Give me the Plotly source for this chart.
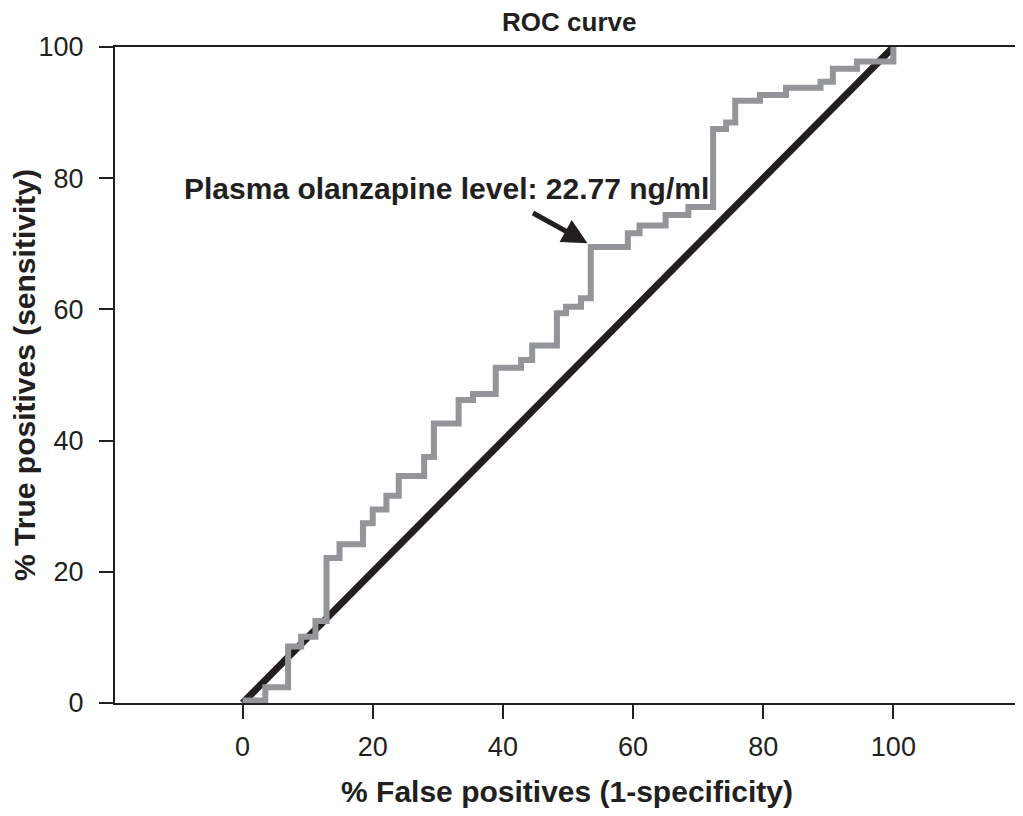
import plotly.graph_objects as go

# ROC step curve (corner points, drawn with hv steps)
fpr = [0, 3.5, 7.0, 9.0, 11.2, 12.9, 14.9, 18.5, 20.0, 22.1, 24.0, 27.9, 29.4,
       33.2, 35.4, 38.9, 42.8, 44.5, 48.3, 49.7, 52.0, 53.5, 59.2, 61.0, 65.0,
       68.5, 72.3, 74.3, 75.7, 79.5, 83.5, 88.8, 90.7, 94.4, 100]
tpr = [0.4, 2.4, 8.6, 10.1, 12.5, 22.1, 24.2, 27.4, 29.5, 31.6, 34.6, 37.5, 42.6,
       46.2, 47.1, 51.1, 52.3, 54.5, 59.4, 60.4, 61.7, 69.5, 71.6, 72.8, 74.4,
       75.6, 87.5, 88.5, 91.8, 92.7, 93.8, 94.7, 96.7, 97.8, 100]

# chance line
ref_x = [0, 100]
ref_y = [0, 100]

tick_vals = [0, 20, 40, 60, 80, 100]

# cut-off point marked by the arrow
cut_x, cut_y = 53.0, 70.1
cut_label = "Plasma olanzapine level: 22.77 ng/ml"

dark = "#231f20"
grey = "#939598"
font = "Liberation Sans, Arial, sans-serif"

fig = go.Figure()
fig.add_trace(go.Scatter(x=ref_x, y=ref_y, mode="lines",
                         line=dict(color=dark, width=7), hoverinfo="none"))
fig.add_trace(go.Scatter(x=fpr, y=tpr, mode="lines", line_shape="hv",
                         line=dict(color=grey, width=6), hoverinfo="none"))

fig.add_annotation(x=cut_x, y=cut_y, ax=-56, ay=-31, text="",
                   showarrow=True, arrowhead=2, arrowsize=1.0, arrowwidth=5,
                   arrowcolor=dark)
fig.add_annotation(x=31.4, y=78.4, text="<b>%s</b>" % cut_label,
                   showarrow=False, font=dict(family=font, size=30, color=dark))

# page has an 8px body margin, so the figure is sized to fit without scrollbars
fig.update_layout(
    width=1015, height=808,
    paper_bgcolor="white", plot_bgcolor="white",
    showlegend=False,
    margin=dict(l=106, r=2, t=39, b=113),
    title=dict(text="<b>ROC curve</b>", x=0.553, xanchor="center",
               y=0.994, yanchor="top",
               font=dict(family=font, size=26, color=dark)),
    font=dict(family=font, color=dark),
)
fig.update_xaxes(
    range=[-19.6, 119.3], tickvals=tick_vals, ticks="outside", ticklen=14,
    tickwidth=2, tickcolor=dark, showline=True, linecolor=dark, linewidth=2,
    mirror=True, showgrid=False, zeroline=False,
    tickfont=dict(family=font, size=27, color=dark), ticklabelstandoff=5,
    title=dict(text="<b>% False positives (1-specificity)</b>", standoff=20,
               font=dict(family=font, size=30, color=dark)),
)
fig.update_yaxes(
    range=[0, 100], tickvals=tick_vals, ticks="outside", ticklen=14,
    tickwidth=2, tickcolor=dark, showline=True, linecolor=dark, linewidth=2,
    mirror=True, showgrid=False, zeroline=False,
    tickfont=dict(family=font, size=27, color=dark), ticklabelstandoff=10,
    title=dict(text="<b>% True positives (sensitivity)</b>", standoff=8,
               font=dict(family=font, size=30, color=dark)),
)

fig.write_html("out.html")
